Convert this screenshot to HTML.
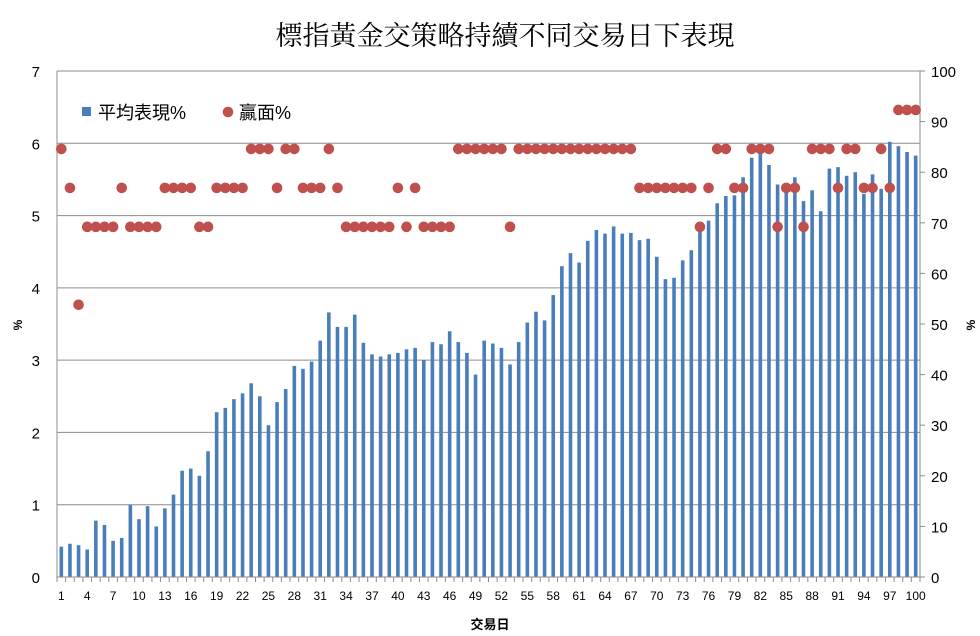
<!DOCTYPE html>
<html><head><meta charset="utf-8"><style>
body{margin:0;background:#fff;}
svg{display:block;font-family:"Liberation Sans","Noto Sans CJK TC",sans-serif;}
</style></head><body>
<svg id="c" width="980" height="636"></svg>
<script>
const categories = Array.from({length:100},(_,i)=>String(i+1));
const avgPerf = [0.42,0.46,0.44,0.38,0.78,0.72,0.5,0.54,1.0,0.8,0.98,0.7,0.95,1.14,1.47,1.5,1.4,1.74,2.28,2.34,2.46,2.54,2.68,2.5,2.1,2.42,2.6,2.92,2.88,2.98,3.27,3.66,3.46,3.46,3.63,3.24,3.08,3.05,3.08,3.1,3.15,3.17,3.0,3.25,3.22,3.4,3.25,3.1,2.8,3.27,3.23,3.17,2.94,3.25,3.52,3.67,3.55,3.9,4.3,4.48,4.35,4.65,4.8,4.75,4.85,4.75,4.76,4.66,4.68,4.43,4.12,4.14,4.38,4.52,4.8,4.93,5.17,5.27,5.28,5.53,5.8,5.93,5.7,5.43,5.4,5.53,5.2,5.35,5.06,5.65,5.67,5.55,5.6,5.3,5.57,5.37,6.02,5.96,5.88,5.83];
const winRate = [84.6,76.9,53.8,69.2,69.2,69.2,69.2,76.9,69.2,69.2,69.2,69.2,76.9,76.9,76.9,76.9,69.2,69.2,76.9,76.9,76.9,76.9,84.6,84.6,84.6,76.9,84.6,84.6,76.9,76.9,76.9,84.6,76.9,69.2,69.2,69.2,69.2,69.2,69.2,76.9,69.2,76.9,69.2,69.2,69.2,69.2,84.6,84.6,84.6,84.6,84.6,84.6,69.2,84.6,84.6,84.6,84.6,84.6,84.6,84.6,84.6,84.6,84.6,84.6,84.6,84.6,84.6,76.9,76.9,76.9,76.9,76.9,76.9,76.9,69.2,76.9,84.6,84.6,76.9,76.9,84.6,84.6,84.6,69.2,76.9,76.9,69.2,84.6,84.6,84.6,76.9,84.6,84.6,76.9,76.9,84.6,76.9,92.3,92.3,92.3];
const leftTicks = [0,1,2,3,4,5,6,7];
const rightTicks = [0,10,20,30,40,50,60,70,80,90,100];

const NS="http://www.w3.org/2000/svg", svg=document.getElementById('c');
const L=57,R=920,T=71,B=577;
const yL=v=>B-(v/7)*(B-T), yR=v=>B-(v/100)*(B-T);
const step=(R-L)/categories.length, xC=i=>L+(i+0.5)*step;
function mk(tag,a,txt){const e=document.createElementNS(NS,tag);for(const k in a)e.setAttribute(k,a[k]);if(txt!==undefined)e.textContent=txt;svg.appendChild(e);return e;}

let e=mk('text',{x:505,y:45,'text-anchor':'middle','font-size':27,fill:'#000','font-family':'"Liberation Serif","Noto Serif CJK SC",serif'},'標指黃金交策略持續不同交易日下表現');



leftTicks.forEach(t=>{
  const g=mk('line',{x1:L,x2:R,y1:yL(t),y2:yL(t),stroke:'#8c8c8c','stroke-width':1});
  
  
  const lb=mk('text',{x:40,y:yL(t)+6,'text-anchor':'end','font-size':15,fill:'#000'},String(t));
  
  
});
rightTicks.forEach(t=>{
  const tk=mk('line',{x1:R,x2:R+5,y1:yR(t),y2:yR(t),stroke:'#8c8c8c'});
  
  
  const lb=mk('text',{x:931,y:yR(t)+6,'font-size':15,fill:'#000'},String(t));
  
  
});
e=mk('line',{x1:L,x2:L,y1:T,y2:B,stroke:'#8c8c8c'});


e=mk('line',{x1:R,x2:R,y1:T,y2:B,stroke:'#8c8c8c'});



avgPerf.forEach((v,i)=>{
  const b=mk('rect',{x:xC(i)-1.8,y:yL(v),width:3.6,height:B-yL(v),fill:'#4a7ebb'});
  
  
});
for(let i=0;i<=categories.length;i++){
  const x=L+i*step;
  const tk=mk('line',{x1:x,x2:x,y1:B,y2:B+5,stroke:'#8c8c8c'});
  
  
}
categories.forEach((c,i)=>{
  if(i%3!==0)return;
  const lb=mk('text',{x:xC(i),y:600,'text-anchor':'middle','font-size':12,fill:'#000'},c);
  
  
});
winRate.forEach((v,i)=>{
  const d=mk('circle',{cx:xC(i),cy:yR(v),r:5.3,fill:'#c0504d'});
  
  
});
e=mk('line',{x1:L,x2:R,y1:B,y2:B,stroke:'#8c8c8c'});



e=mk('text',{x:22,y:325,'text-anchor':'middle','font-size':12,'font-weight':'bold',transform:'rotate(-90 22 325)'},'%');


e=mk('text',{x:975,y:325,'text-anchor':'middle','font-size':12,'font-weight':'bold',transform:'rotate(-90 975 325)'},'%');


e=mk('text',{x:490,y:629,'text-anchor':'middle','font-size':13,'font-weight':'bold'},'交易日');



e=mk('rect',{x:82,y:107,width:9,height:9,fill:'#4a7ebb'});


e=mk('text',{x:98,y:119,'font-size':18},'平均表現%');


e=mk('circle',{cx:228,cy:112,r:5.3,fill:'#c0504d'});


e=mk('text',{x:239,y:119,'font-size':18},'贏面%');


</script>
</body></html>
